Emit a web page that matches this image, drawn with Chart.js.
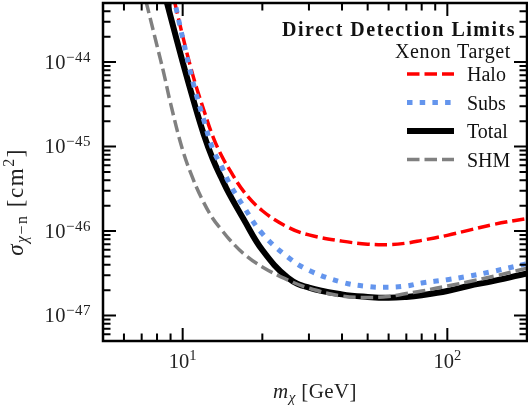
<!DOCTYPE html>
<html>
<head>
<meta charset="utf-8">
<script src="https://cdn.jsdelivr.net/npm/chart.js@4.4.1/dist/chart.umd.min.js"></script>
<style>
    html, body { margin: 0; padding: 0; background: #ffffff; }
    #wrap { width: 528px; height: 412px; }
</style>
</head>
<body>
<div id="wrap"><canvas id="limitsChart" width="528" height="412"></canvas></div>
<script>

//-----------------------------------------------------------------------------
// data (dark matter mass in GeV, cross section in cm^2)
//-----------------------------------------------------------------------------
const masses     = [7, 8, 8.5, 9, 10, 11, 12, 13, 14, 15, 17, 20, 25, 30, 40, 50, 60, 70, 80, 100, 120, 150, 200];

const haloLimit  = [null, null, null, 8.3e-44, 2.04e-44, 6.5e-45, 2.75e-45, 1.32e-45, 7.9e-46, 5.4e-46, 2.95e-46, 1.74e-46,
                    1.11e-46, 9.0e-47, 7.6e-47, 7.0e-47, 6.9e-47, 7.2e-47, 7.76e-47, 8.9e-47, 1.02e-46, 1.20e-46, 1.41e-46];

const subsLimit  = [null, null, null, 8.7e-44, 1.93e-44, 5.4e-45, 2.09e-45, 9.3e-46, 5.9e-46, 3.7e-46, 1.95e-46, 9.3e-47,
                    4.9e-47, 3.43e-47, 2.48e-47, 2.21e-47, 2.16e-47, 2.24e-47, 2.43e-47, 2.66e-47, 2.92e-47, 3.35e-47, 4.12e-47];

const totalLimit = [null, null, 6.8e-44, 3.47e-44, 1.0e-44, 3.47e-45, 1.41e-45, 7.1e-46, 4.27e-46, 2.75e-46, 1.38e-46, 5.96e-47,
                    2.79e-47, 2.14e-47, 1.78e-47, 1.66e-47, 1.62e-47, 1.66e-47, 1.74e-47, 1.95e-47, 2.24e-47, 2.57e-47, 3.16e-47];

const shmLimit   = [8.4e-44, 1.56e-44, 7.2e-45, 3.24e-45, 9.1e-46, 3.98e-46, 2.19e-46, 1.41e-46, 1.04e-46, 8.0e-47, 5.4e-47, 3.76e-47,
                    2.63e-47, 2.11e-47, 1.70e-47, 1.64e-47, 1.68e-47, 1.82e-47, 1.95e-47, 2.24e-47, 2.51e-47, 2.92e-47, 3.63e-47];

const seriesNames = ['Halo', 'Subs', 'Total', 'SHM'];
const legendTitle = ['Direct Detection Limits', 'Xenon Target'];

// axis ranges and tick labels
const xRange      = [5, 200];
const yRange      = [5e-48, 5e-44];
const xTickValues = [10, 100];
const xTickExps   = ['1', '2'];
const yTickValues = [1e-47, 1e-46, 1e-45, 1e-44];
const yTickExps   = ['\u221247', '\u221246', '\u221245', '\u221244'];

const SERIF = "'Liberation Serif', 'Times New Roman', serif";

//-----------------------------------------------------------------------------
// turn a pair of arrays into {x, y} points, skipping the empty ones
//-----------------------------------------------------------------------------
function toPoints(xs, ys) {
    const pts = [];
    xs.forEach((x, i) => {
        if (ys[i] !== null) pts.push({ x: x, y: ys[i] });
    });
    return pts;
}

//-----------------------------------------------------------------------------
// draw a row of text pieces (for sub/superscripts). pieces: {t, size, dy, style}
//-----------------------------------------------------------------------------
function drawPieces(ctx, pieces, x, y, align, spacing) {
    ctx.letterSpacing = `${spacing || 0}px`;
    let total = 0;
    pieces.forEach(p => {
        ctx.font = `${p.style || ''} ${p.size}px ${SERIF}`;
        p.w = ctx.measureText(p.t).width;
        total += p.w;
    });
    let cx = x;
    if (align === 'right') cx = x - total;
    if (align === 'center') cx = x - total / 2;
    ctx.textAlign = 'left';
    ctx.textBaseline = 'alphabetic';
    pieces.forEach(p => {
        ctx.font = `${p.style || ''} ${p.size}px ${SERIF}`;
        ctx.fillText(p.t, cx, y + (p.dy || 0));
        cx += p.w;
    });
    ctx.letterSpacing = '0px';
}

//-----------------------------------------------------------------------------
// minor tick values for a log axis between min and max
//-----------------------------------------------------------------------------
function logMinorTicks(min, max) {
    const out = [];
    const lo = Math.floor(Math.log10(min));
    const hi = Math.ceil(Math.log10(max));
    for (let e = lo; e <= hi; e++) {
        for (let k = 2; k <= 9; k++) {
            const v = k * Math.pow(10, e);
            if (v > min * 1.0001 && v < max * 0.9999) out.push(v);
        }
    }
    return out;
}

//-----------------------------------------------------------------------------
// frame with inward ticks on all four sides, tick labels, axis titles, legend
//-----------------------------------------------------------------------------
const framePlugin = {
    id: 'frame',
    afterDraw(chart) {
        const ctx = chart.ctx;
        const area = chart.chartArea;
        const xs = chart.scales.x;
        const ys = chart.scales.y;
        const majorLen = 13;
        const minorLen = 7.5;

        ctx.save();
        ctx.strokeStyle = '#000000';
        ctx.fillStyle = '#000000';
        ctx.setLineDash([]);

        // ticks
        ctx.lineWidth = 2;
        const xTicks = xTickValues.map(v => [v, majorLen]).concat(logMinorTicks(xRange[0], xRange[1]).map(v => [v, minorLen]));
        xTicks.forEach(([v, len]) => {
            const px = xs.getPixelForValue(v);
            ctx.beginPath();
            ctx.moveTo(px, area.bottom);
            ctx.lineTo(px, area.bottom - len);
            ctx.moveTo(px, area.top);
            ctx.lineTo(px, area.top + len);
            ctx.stroke();
        });
        const yTicks = yTickValues.map(v => [v, majorLen]).concat(logMinorTicks(yRange[0], yRange[1]).map(v => [v, minorLen]));
        yTicks.forEach(([v, len]) => {
            const py = ys.getPixelForValue(v);
            ctx.beginPath();
            ctx.moveTo(area.left, py);
            ctx.lineTo(area.left + len, py);
            ctx.moveTo(area.right, py);
            ctx.lineTo(area.right - len, py);
            ctx.stroke();
        });

        // box
        ctx.lineWidth = 2.5;
        ctx.strokeRect(area.left, area.top, area.right - area.left, area.bottom - area.top);

        // tick labels
        ctx.fillStyle = '#222222';
        xTickValues.forEach((v, i) => {
            const px = xs.getPixelForValue(v);
            drawPieces(ctx, [
                { t: '10', size: 20.5 },
                { t: xTickExps[i], size: 14.5, dy: -8 }
            ], px, area.bottom + 27, 'center');
        });
        yTickValues.forEach((v, i) => {
            const py = ys.getPixelForValue(v);
            drawPieces(ctx, [
                { t: '10', size: 20.5 },
                { t: yTickExps[i], size: 15, dy: -7 }
            ], area.left - 12, py + 6.5, 'right', 0.5);
        });

        // axis titles
        drawPieces(ctx, [
            { t: 'm', size: 21, style: 'italic' },
            { t: '\u03c7', size: 15, style: 'italic', dy: 4 },
            { t: ' [GeV]', size: 21 }
        ], (area.left + area.right) / 2, 398, 'center', 0.4);

        ctx.save();
        ctx.translate(23, 202);
        ctx.rotate(-Math.PI / 2);
        drawPieces(ctx, [
            { t: '\u03c3', size: 23, style: 'italic' },
            { t: '\u03c7', size: 16, style: 'italic', dy: 4 },
            { t: '\u2212n', size: 16, dy: 4 },
            { t: ' [cm', size: 23 },
            { t: '2', size: 16, dy: -9 },
            { t: ']', size: 23 }
        ], 0, 0, 'center', 1.5);
        ctx.restore();

        // legend, inside the top right corner
        ctx.fillStyle = '#111111';
        ctx.textAlign = 'right';
        ctx.textBaseline = 'alphabetic';
        ctx.font = `bold 20px ${SERIF}`;
        ctx.letterSpacing = '1.5px';
        ctx.fillText(legendTitle[0], 516, 36);
        ctx.font = `20px ${SERIF}`;
        ctx.letterSpacing = '0.6px';
        ctx.fillText(legendTitle[1], 511, 58);
        ctx.letterSpacing = '0px';

        chart.data.datasets.forEach((ds, i) => {
            const rowY = 74 + i * 28.5;
            ctx.save();
            ctx.strokeStyle = ds.borderColor;
            ctx.lineWidth = ds.borderWidth;
            ctx.setLineDash(ds.borderDash || []);
            ctx.lineCap = 'butt';
            ctx.beginPath();
            ctx.moveTo(407, rowY);
            ctx.lineTo(454, rowY);
            ctx.stroke();
            ctx.restore();
            ctx.textAlign = 'left';
            ctx.font = `20px ${SERIF}`;
            ctx.fillText(ds.label, 467, rowY + 7);
        });

        ctx.restore();
    }
};

//-----------------------------------------------------------------------------
// build the chart
//-----------------------------------------------------------------------------
const ctx = document.getElementById('limitsChart').getContext('2d');
new Chart(ctx, {
    type: 'line',
    data: {
        datasets: [
            {
                label: seriesNames[0],
                data: toPoints(masses, haloLimit),
                borderColor: '#ff0000',
                borderWidth: 3.5,
                borderDash: [12.5, 5],
                order: 3
            },
            {
                label: seriesNames[1],
                data: toPoints(masses, subsLimit),
                borderColor: '#6495ed',
                borderWidth: 5,
                borderDash: [5.5, 7.2],
                order: 2
            },
            {
                label: seriesNames[2],
                data: toPoints(masses, totalLimit),
                borderColor: '#000000',
                borderWidth: 6,
                order: 4
            },
            {
                label: seriesNames[3],
                data: toPoints(masses, shmLimit),
                borderColor: '#808080',
                borderWidth: 3.5,
                borderDash: [12.5, 5],
                order: 1
            }
        ]
    },
    options: {
        responsive: false,
        animation: false,
        devicePixelRatio: 1,
        layout: {
            padding: { left: 103, right: 1, top: 3, bottom: 71 }
        },
        elements: {
            point: { radius: 0, hoverRadius: 0 },
            line: { tension: 0.4, fill: false, borderCapStyle: 'butt' }
        },
        datasets: {
            line: { clip: 0 }
        },
        plugins: {
            legend: { display: false },
            tooltip: { enabled: false }
        },
        scales: {
            x: {
                type: 'logarithmic',
                min: xRange[0],
                max: xRange[1],
                display: false
            },
            y: {
                type: 'logarithmic',
                min: yRange[0],
                max: yRange[1],
                display: false
            }
        }
    },
    plugins: [framePlugin]
});

</script>
</body>
</html>
